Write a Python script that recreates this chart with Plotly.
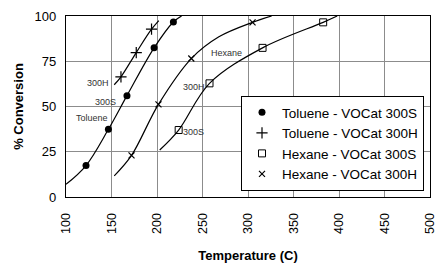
import plotly.graph_objects as go

# Data
tol_s_T = [122, 146.6, 167, 196.8, 218]
tol_s_C = [17.4, 37.4, 56, 82.4, 96.7]
tol_h_T = [160.4, 177.2, 194]
tol_h_C = [66.4, 79.8, 92.7]
hex_s_T = [223.8, 257.7, 316, 382.6]
hex_s_C = [37, 62.8, 82.4, 96.5]
hex_h_T = [172, 201.6, 237.7, 305]
hex_h_C = [23, 51.2, 76.5, 96.5]

# Fitted curve paths (including curve ends)
tol_s_curve_T = [100, 122, 146.6, 167, 196.8, 218, 227]
tol_s_curve_C = [7, 17.4, 37.4, 56, 82.4, 96.7, 100]
tol_h_curve_T = [153, 160.4, 177.2, 194, 202]
tol_h_curve_C = [62, 66.4, 79.8, 92.7, 97.5]
hex_h_curve_T = [153, 172, 201.6, 237.7, 268, 305, 326]
hex_h_curve_C = [11.7, 23, 51.2, 76.5, 88.5, 96.5, 100]
hex_s_curve_T = [203, 223.8, 257.7, 316, 382.6, 398]
hex_s_curve_C = [26, 37, 62.8, 82.4, 96.5, 100]

x_ticks = [100, 150, 200, 250, 300, 350, 400, 450, 500]
y_ticks = [0, 25, 50, 75, 100]

fig = go.Figure()
line = dict(color="black", width=1.2, shape="spline", smoothing=1.0)
for tx, cy in [(tol_s_curve_T, tol_s_curve_C), (tol_h_curve_T, tol_h_curve_C),
               (hex_h_curve_T, hex_h_curve_C), (hex_s_curve_T, hex_s_curve_C)]:
    fig.add_trace(go.Scatter(x=tx, y=cy, mode="lines", line=line,
                             showlegend=False, hoverinfo="skip"))

fig.add_trace(go.Scatter(x=tol_s_T, y=tol_s_C, mode="markers", name="Toluene - VOCat 300S",
                         marker=dict(symbol="circle", size=7, color="black")))
fig.add_trace(go.Scatter(x=tol_h_T, y=tol_h_C, mode="markers", name="Toluene - VOCat 300H",
                         marker=dict(symbol="cross-thin-open", size=8, color="black",
                                     line=dict(color="black", width=1.2))))
fig.add_trace(go.Scatter(x=hex_s_T, y=hex_s_C, mode="markers", name="Hexane - VOCat 300S",
                         marker=dict(symbol="square-open", size=7, color="black",
                                     line=dict(color="black", width=1))))
fig.add_trace(go.Scatter(x=hex_h_T, y=hex_h_C, mode="markers", name="Hexane - VOCat 300H",
                         marker=dict(symbol="x-thin-open", size=6, color="black",
                                     line=dict(color="black", width=1.2))))

L, R, T, B = 66, 6, 16, 66
W, H = 436, 263
pw, ph = W - L - R, H - T - B

ann_font = dict(family="Liberation Sans, Arial", size=9, color="#333")
annos = [
    (111, 83, "300H", "right"),
    (118, 102, "300S", "right"),
    (110, 118, "Toluene", "right"),
    (207, 87, "300H", "right"),
    (181, 132, "300S", "left"),
    (209, 53, "Hexane", "left"),
]
for px, py, t, al in annos:
    fig.add_annotation(x=(px - L) / pw, y=1 - (py - T) / ph, xref="paper", yref="paper",
                       text=t, showarrow=False, font=ann_font,
                       xanchor=al, yanchor="middle")

fig.update_layout(
    width=W, height=H,
    margin=dict(l=L, r=R, t=T, b=B),
    paper_bgcolor="white", plot_bgcolor="white",
    font=dict(family="Liberation Sans, Arial", size=13, color="black"),
    xaxis=dict(range=[100, 500], tickvals=x_ticks, tickangle=-90, automargin=False,
               showgrid=True, gridcolor="#8c8c8c", gridwidth=1,
               showline=True, linecolor="black", linewidth=1.2, mirror=True,
               ticks="", zeroline=False, ticklabelstandoff=10,
               ticklabeloverflow="allow", tickfont=dict(size=12.5),
               title=dict(text="<b>Temperature (C)</b>", font=dict(size=13), standoff=26)),
    yaxis=dict(range=[0, 100], tickvals=y_ticks, automargin=False,
               showgrid=True, gridcolor="#8c8c8c", gridwidth=1,
               showline=True, linecolor="black", linewidth=1.2, mirror=True,
               ticks="", zeroline=False, ticklabelstandoff=6,
               title=dict(text="<b>% Conversion</b>", font=dict(size=13), standoff=8)),
    legend=dict(x=1 - (436 - R - 424) / pw, y=1 - (96 - T) / ph, xanchor="right", yanchor="top",
                bgcolor="white", bordercolor="black", borderwidth=1,
                font=dict(size=13.5), tracegroupgap=0, itemwidth=30),
)

fig.write_html("out.html", config={"displayModeBar": False},
               post_script="document.body.style.margin='0';")
